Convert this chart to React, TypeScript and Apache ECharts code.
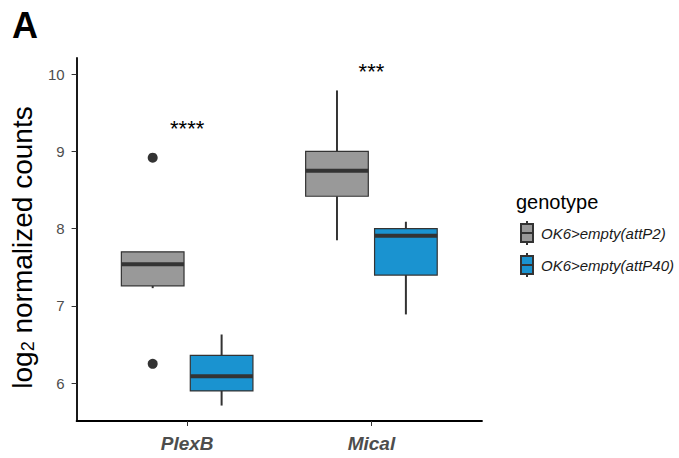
import React, { useEffect, useRef } from "react";
import * as echarts from "echarts";

// Genes on the x axis and the two genotypes compared for each
const categories = ["PlexB", "Mical"];
const genotypes = ["OK6>empty(attP2)", "OK6>empty(attP40)"];
const genotypeColors = ["#999999", "#1A93D0"];

// Box statistics per gene: [lower whisker, Q1, median, Q3, upper whisker]
const attP2Stats = [
  [7.23, 7.26, 7.54, 7.7, 7.7],
  [7.85, 8.42, 8.75, 9.0, 9.79],
];
const attP40Stats = [
  [5.71, 5.9, 6.09, 6.36, 6.63],
  [6.89, 7.4, 7.91, 8.0, 8.09],
];

// Outlying samples: [gene index, value]
const attP2Outliers = [
  [0, 8.92],
  [0, 6.25],
];

// Significance marks above each gene
const significanceLabels = ["****", "***"];
const significanceY = [9.3, 10.04];

const yTicks = [6, 7, 8, 9, 10];

const DODGE = 0.187;
const BOX_WIDTH = 0.34;
const FONT = "'Liberation Sans', Arial, sans-serif";

function boxSeries(name: string, stats: number[][], offset: number, color: string) {
  return {
    type: "custom",
    name,
    itemStyle: { color, borderColor: "#333333", borderWidth: 1 },
    data: stats.map((s, i) => [i, ...s]),
    encode: { x: 0, y: [1, 2, 3, 4, 5] },
    renderItem: (params: any, api: any) => {
      const xc = api.value(0) + 1 + offset;
      const lo = api.value(1);
      const q1 = api.value(2);
      const med = api.value(3);
      const q3 = api.value(4);
      const hi = api.value(5);
      const w = api.size([BOX_WIDTH, 0])[0];
      const pLo = api.coord([xc, lo]);
      const pQ1 = api.coord([xc, q1]);
      const pMed = api.coord([xc, med]);
      const pQ3 = api.coord([xc, q3]);
      const pHi = api.coord([xc, hi]);
      const x0 = pQ1[0] - w / 2;
      const lineStyle = { stroke: "#333333", lineWidth: 2 };
      return {
        type: "group",
        children: [
          {
            type: "line",
            shape: { x1: pHi[0], y1: pHi[1], x2: pQ3[0], y2: pQ3[1] },
            style: lineStyle,
          },
          {
            type: "line",
            shape: { x1: pQ1[0], y1: pQ1[1], x2: pLo[0], y2: pLo[1] },
            style: lineStyle,
          },
          {
            type: "rect",
            shape: { x: x0, y: pQ3[1], width: w, height: pQ1[1] - pQ3[1] },
            style: { fill: color, stroke: "#333333", lineWidth: 1.2 },
          },
          {
            type: "line",
            shape: { x1: x0, y1: pMed[1], x2: x0 + w, y2: pMed[1] },
            style: { stroke: "#333333", lineWidth: 4 },
          },
        ],
      };
    },
  };
}

export default function App() {
  const ref = useRef<HTMLDivElement>(null);

  useEffect(() => {
    if (!ref.current) return;
    const chart = echarts.init(ref.current, undefined, { renderer: "svg" });

    const legendIcon =
      "path://M6,0L6,3M0,3L12,3L12,21L0,21ZM0,12L12,12M6,21L6,24";

    chart.setOption({
      animation: false,
      backgroundColor: "#ffffff",
      textStyle: { fontFamily: FONT },
      title: [
        {
          text: "A",
          left: 7,
          top: 2,
          textStyle: { fontSize: 36, fontWeight: "bold", color: "#000000", fontFamily: FONT },
        },
        {
          text: "genotype",
          left: 511,
          top: 187,
          textStyle: { fontSize: 20, fontWeight: "normal", color: "#000000", fontFamily: FONT },
        },
      ],
      legend: {
        data: genotypes.map((g) => ({ name: g, icon: legendIcon })),
        orient: "vertical",
        left: 515,
        top: 215,
        itemWidth: 12,
        itemHeight: 24,
        itemGap: 6,
        selectedMode: false,
        textStyle: {
          fontSize: 15,
          fontStyle: "italic",
          color: "#1a1a1a",
          fontFamily: FONT,
          padding: [0, 0, 0, 3],
        },
      },
      grid: { left: 75, right: 197, top: 58, bottom: 37 },
      xAxis: {
        type: "value",
        min: 0.4,
        max: 2.6,
        splitLine: { show: false },
        axisLine: { lineStyle: { color: "#000000", width: 1.8 } },
        axisTick: { customValues: [1, 2], length: 5, lineStyle: { color: "#333333" } },
        axisLabel: {
          customValues: [1, 2],
          formatter: (v: number) => categories[Math.round(v) - 1] ?? "",
          fontSize: 19,
          fontWeight: "bold",
          fontStyle: "italic",
          color: "#4d4d4d",
          margin: 13,
          fontFamily: FONT,
        },
      },
      yAxis: {
        type: "value",
        min: 5.51,
        max: 10.21,
        splitLine: { show: false },
        axisLine: { show: true, lineStyle: { color: "#000000", width: 1.8 } },
        axisTick: { show: true, customValues: yTicks, length: 5, lineStyle: { color: "#333333" } },
        axisLabel: {
          customValues: yTicks,
          fontSize: 15,
          color: "#4d4d4d",
          margin: 12,
          fontFamily: FONT,
        },
        name: "log{sub|2} normalized counts",
        nameLocation: "middle",
        nameGap: 36,
        nameTextStyle: {
          fontSize: 28,
          color: "#000000",
          fontFamily: FONT,
          padding: [0, 16, 0, 0],
          rich: {
            sub: { fontSize: 18, verticalAlign: "bottom", padding: [12, 0, 0, 0], color: "#000000", fontFamily: FONT },
          },
        },
      },
      series: [
        boxSeries(genotypes[0], attP2Stats, -DODGE, genotypeColors[0]),
        boxSeries(genotypes[1], attP40Stats, DODGE, genotypeColors[1]),
        {
          type: "scatter",
          name: "outliers",
          symbol: "circle",
          symbolSize: 10,
          itemStyle: { color: "#333333", opacity: 1 },
          data: attP2Outliers.map(([gi, v]) => [gi + 1 - DODGE, v]),
        },
        {
          type: "custom",
          name: "significance",
          data: significanceLabels.map((t, i) => [i + 1, significanceY[i], t]),
          encode: { x: 0, y: 1 },
          renderItem: (params: any, api: any) => {
            const p = api.coord([api.value(0), api.value(1)]);
            return {
              type: "text",
              x: p[0],
              y: p[1],
              style: {
                text: significanceLabels[params.dataIndex],
                fontSize: 22,
                fontFamily: FONT,
                fill: "#000000",
                align: "center",
                verticalAlign: "middle",
              },
            };
          },
        },
      ],
    });

    return () => chart.dispose();
  }, []);

  return (
    <div
      ref={ref}
      style={{ position: "absolute", left: 0, top: 0, width: 679, height: 458 }}
    />
  );
}
